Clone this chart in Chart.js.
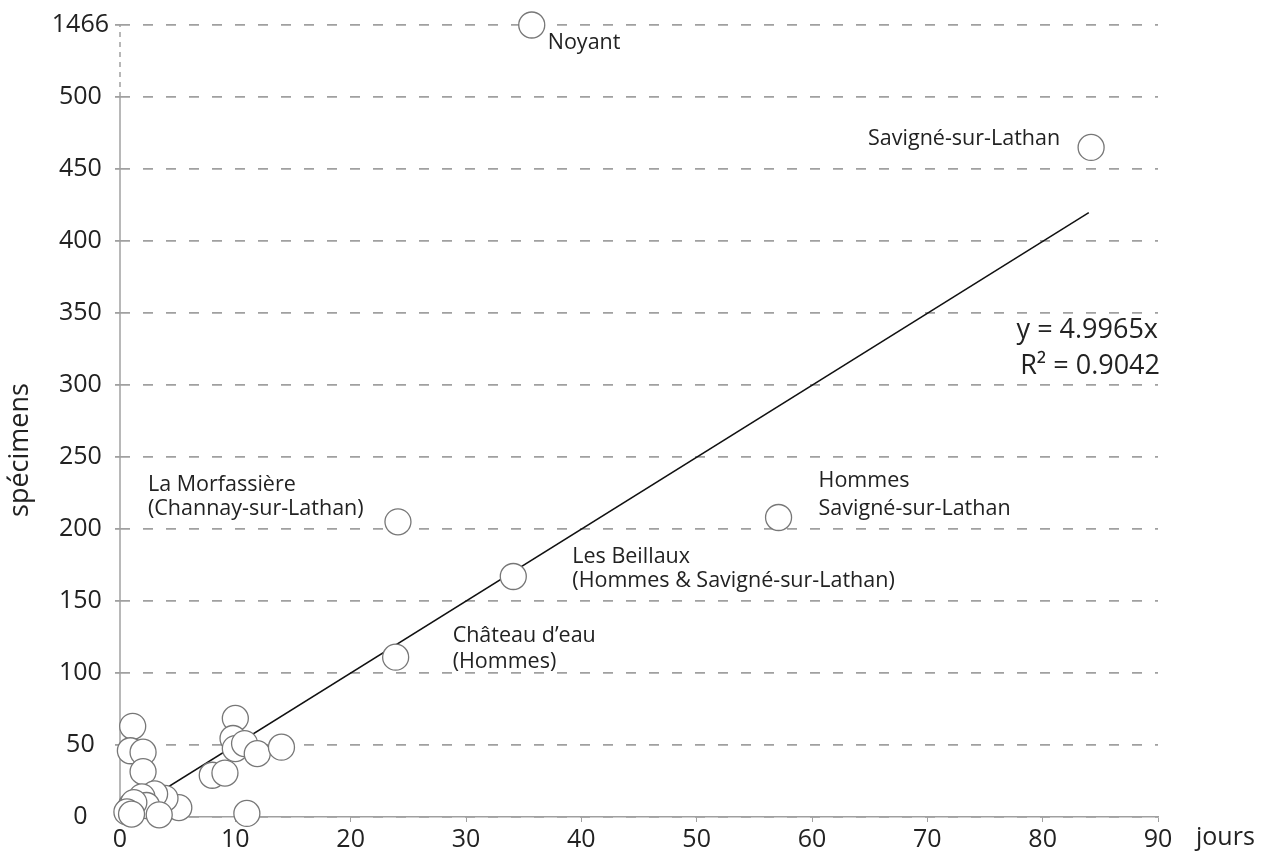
<!DOCTYPE html>
<html>
<head>
<meta charset="utf-8">
<script src="https://cdn.jsdelivr.net/npm/chart.js@4.4.1/dist/chart.umd.min.js"></script>
<style>
  html, body { margin: 0; padding: 0; background: #fff; }
  #wrap { width: 1269px; height: 854px; }
</style>
</head>
<body>
<div id="wrap"><canvas id="chart"></canvas></div>
<script>
// sites: jours (x) and spécimens (y)
var jours =     [35.7, 84.2, 24.1, 57.1, 34.1, 23.9,
                 1.1, 0.9, 2.0, 2.0, 10.0, 9.8, 10.0, 10.8, 11.9, 14.0, 8.0, 9.1,
                 11.0, 5.1, 3.9, 3.0, 1.9, 2.3, 1.0, 0.8, 1.2, 0.6, 3.4, 1.0];
var specimens = [1466, 465, 205, 208, 167, 111,
                 63, 46, 45, 31.5, 68.5, 54.5, 47.5, 51, 44, 48.5, 29, 30.5,
                 2.5, 6.5, 13, 16, 14, 8, 8, 5, 10, 3.5, 1.5, 2];

// labelled sites (index into the arrays above)
var siteNames = ["Noyant", "Savigné-sur-Lathan", "La Morfassière\n(Channay-sur-Lathan)",
                 "Hommes\nSavigné-sur-Lathan", "Les Beillaux\n(Hommes & Savigné-sur-Lathan)",
                 "Château d’eau\n(Hommes)"];

// broken axis: the top tick (1466) sits one step above 500
var yTicks = [0, 50, 100, 150, 200, 250, 300, 350, 400, 450, 500, 550];
var yTickLabels = ["0", "50", "100", "150", "200", "250", "300", "350", "400", "450", "500", "1466"];
var breakValue = 550;

// linear trend through origin
var trendX = [0, 84];
var trendY = [0, 419.7];
var trendText = ["y = 4.9965x", "R² = 0.9042"];

var points = jours.map(function(x, i){
    return { x: x, y: specimens[i] > 500 ? breakValue : specimens[i] };
});
var trend = trendX.map(function(x, i){ return { x: x, y: trendY[i] }; });

// pixel placement of the annotations, relative to their point
var labelLayout = [
    { dx: 16, dy: [18], align: "left" },
    { dx: -31, dy: [-9], align: "right" },
    { dx: -250, dy: [-37, -13], align: "left" },
    { dx: 40, dy: [-37, -9], align: "left" },
    { dx: 59, dy: [-20, 4], align: "left" },
    { dx: 57, dy: [-21, 5], align: "left" }
];

var font = "'Open Sans', sans-serif";
var grey = "#a0a0a0";

var annotations = {
    id: "annotations",
    beforeDatasetsDraw: function(chart){
        var ctx = chart.ctx, xs = chart.scales.x, ys = chart.scales.y;
        var x0 = xs.getPixelForValue(0);
        ctx.save();
        ctx.strokeStyle = grey;
        ctx.lineWidth = 1.5;
        // y axis line: solid up to 500, dashed across the break
        ctx.beginPath();
        ctx.moveTo(x0, ys.getPixelForValue(0));
        ctx.lineTo(x0, ys.getPixelForValue(500));
        ctx.stroke();
        ctx.setLineDash([5, 5]);
        ctx.beginPath();
        ctx.moveTo(x0, ys.getPixelForValue(500));
        ctx.lineTo(x0, ys.getPixelForValue(breakValue));
        ctx.stroke();
        ctx.restore();
    },
    afterDatasetsDraw: function(chart){
        var ctx = chart.ctx, xs = chart.scales.x, ys = chart.scales.y;
        ctx.save();
        ctx.fillStyle = "#222";
        ctx.textBaseline = "middle";
        ctx.font = "21.5px " + font;
        siteNames.forEach(function(name, i){
            var px = xs.getPixelForValue(points[i].x);
            var py = ys.getPixelForValue(points[i].y);
            var l = labelLayout[i];
            ctx.textAlign = l.align;
            name.split("\n").forEach(function(line, k){
                ctx.fillText(line, px + l.dx, py + l.dy[k]);
            });
        });
        // trend equation
        ctx.font = "27px " + font;
        ctx.textAlign = "right";
        ctx.fillText(trendText[0], 1158, 330);
        ctx.fillText(trendText[1], 1160, 366);
        // axis titles
        ctx.font = "25px " + font;
        ctx.textAlign = "left";
        ctx.fillText("jours", 1196, 838);
        ctx.font = "27px " + font;
        ctx.translate(20, 450);
        ctx.rotate(-Math.PI / 2);
        ctx.textAlign = "center";
        ctx.fillText("spécimens", 0, 0);
        ctx.restore();
    }
};

var chart = new Chart(document.getElementById("chart"), {
    type: "scatter",
    data: {
        datasets: [
            {
                label: "sites",
                data: points,
                pointRadius: 13,
                pointBackgroundColor: "#fff",
                pointBorderColor: "#777",
                pointBorderWidth: 1.3,
                clip: false
            },
            {
                type: "line",
                label: "tendance",
                data: trend,
                borderColor: "#111",
                borderWidth: 1.5,
                pointRadius: 0,
                fill: false
            }
        ]
    },
    options: {
        responsive: true,
        maintainAspectRatio: false,
        animation: false,
        layout: { padding: { top: 25, right: 111, left: 0, bottom: 0 } },
        plugins: {
            legend: { display: false },
            tooltip: { enabled: false }
        },
        scales: {
            x: {
                type: "linear",
                min: 0,
                max: 90,
                afterFit: function(s){ s.height = 37; },
                border: { display: true, color: grey, width: 1.5 },
                grid: { drawOnChartArea: false, drawTicks: true, tickLength: 5, tickColor: grey },
                ticks: { stepSize: 10, padding: 3, color: "#222", font: { family: font, size: 25 } }
            },
            y: {
                type: "linear",
                min: 0,
                max: breakValue,
                afterFit: function(s){ s.width = 120; },
                afterBuildTicks: function(s){
                    s.ticks = yTicks.map(function(v){ return { value: v }; });
                },
                border: { display: false, dash: [10, 13] },
                grid: {
                    color: grey,
                    lineWidth: 1.8,
                    drawTicks: true,
                    tickLength: 5,
                    tickColor: grey,
                    tickBorderDash: []
                },
                ticks: {
                    padding: 6,
                    crossAlign: "center",
                    color: "#222",
                    font: { family: font, size: 25 },
                    callback: function(v){ return yTickLabels[yTicks.indexOf(v)]; }
                }
            }
        }
    },
    plugins: [annotations]
});
</script>
</body>
</html>
